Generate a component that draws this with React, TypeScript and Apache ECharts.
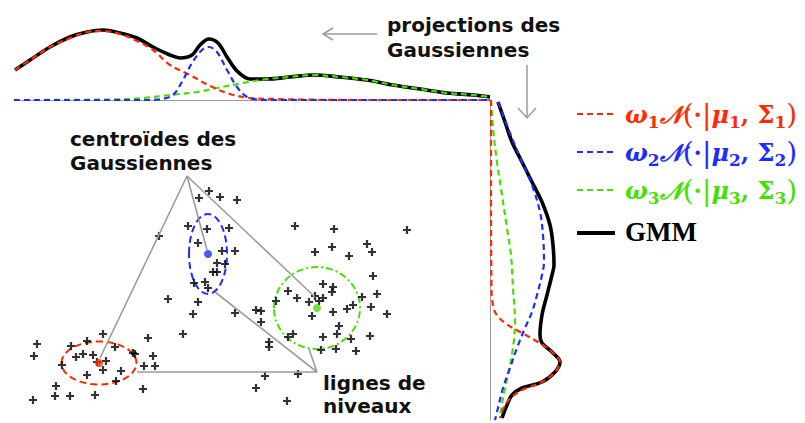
import React, { useEffect, useRef } from "react";
import * as echarts from "echarts";

// 2-D samples (x, y) in plot units
const samples: [number, number][] = [
  [209,191],[199,198],[220,197],[237,200],[159,236],[188,226],[207,229],[229,228],[198,243],[222,251],[235,251],[217,263],[225,264],[213,272],[217,272],[194,283],[205,282],[208,288],[168,299],[198,302],[193,314],[235,313],[256,310],[261,311],[261,322],[269,342],[269,347],[183,334],[148,338],[103,334],[87,341],[71,346],[37,344],[34,356],[76,357],[83,354],[93,355],[115,347],[62,365],[97,362],[106,361],[103,370],[87,375],[121,371],[133,353],[135,354],[153,356],[144,366],[155,366],[116,381],[56,386],[55,396],[70,396],[95,395],[33,400],[143,389],[265,376],[256,388],
  [295,226],[334,229],[407,230],[315,252],[332,247],[349,256],[367,244],[372,252],[373,276],[323,284],[333,287],[332,292],[288,291],[297,298],[315,296],[323,298],[319,301],[309,302],[377,294],[362,297],[353,305],[347,309],[371,307],[276,301],[333,312],[312,316],[387,314],[339,326],[337,334],[370,336],[288,337],[293,334],[323,337],[351,339],[321,350],[336,349],[356,351],[298,374],[287,401],
];

// Gaussian components: centroids and level-line radii
const centroidX = [99, 208, 317];
const centroidY = [363, 254, 308];
const levelRx = [37.5, 19, 43];
const levelRy = [21.5, 40, 41];

// pointer lines of the annotations (plot units)
const pointerLines: [number, number][][] = [
  [[187, 176], [100, 358]],
  [[187, 176], [207, 250]],
  [[187, 176], [315, 297]],
  [[317, 372], [309, 349]],
  [[317, 372], [215, 292]],
  [[317, 372], [137, 372]],
];

// projection on the horizontal axis (x, density)
const topBlackX = [15,30,50,70,87,103,120,137,153,170,180,192,200,209,218,227,237,250,267,290,313,340,367,393,420,447,473,490];
const topBlackV = [30,40,53,63,68,70,67,62,53,45,42,45,55,61,57,43,29,21,21,23,25,23,20,15,11,7,5,3];
const topRedX = [15,30,50,70,87,103,120,137,153,170,190,210,230,250,275,300,350,490];
const topRedV = [30,40,53,62,68,69,66,59,50,35,25,14,6,2,1,0.5,0,0];
const topBlueX = [14,150,162,173,183,192,202,209,217,227,237,247,257,270,490];
const topBlueV = [0,0,1,5,20,37,50,53,48,30,13,3,0.5,0,0];
const topGreenX = [14,110,143,170,197,217,243,260,267,290,313,340,367,393,420,447,473,490];
const topGreenV = [0,0.5,2,5,8,12,17,20,21,23,25,23,20,15,11,7,5,3];

// projection on the vertical axis (y, density)
const rightBlackY = [102,122,142,162,182,202,225,245,265,275,295,315,335,343,352,362,372,382,388,395,405,418];
const rightBlackU = [8,15,22,32,42,52,60,63,64,62,57,52,50,52,62,70,65,52,32,22,17,12];
const rightBlueY = [102,128,162,185,212,235,262,275,295,312,328,348,368,388,408,420];
const rightBlueU = [8,18,32,42,50,53,54,52,47,42,35,27,20,13,8,5];
const rightRedY = [100,200,290,298,312,323,333,342,352,362,372,382,390,397,405,418];
const rightRedU = [1,1,1.5,2,5,15,32,48,62,70,65,52,32,22,15,10];
const rightGreenY = [100,128,162,195,228,255,288,322,348,375,398,418];
const rightGreenU = [1,3,7,12,17,21,23,25,23,18,13,10];

const legendIndex = ["1", "2", "3"];

export default function App() {
  const ref = useRef<HTMLDivElement>(null);
  useEffect(() => {
    document.body.style.margin = "0";
    const chart = echarts.init(ref.current!, null, { renderer: "svg" });
    const gray = "#9b9b9b";
    const colors = ["#ff2a00", "#1e2cff", "#46e000"];
    const dashes = [[7, 4], [7, 4], [7, 3, 2, 3]];
    const top = (xs: number[], vs: number[]) => xs.map((x, i) => [x, vs[i]]);
    const right = (ys: number[], us: number[]) => ys.map((y, i) => [us[i], y]);

    const curve = (data: number[][], g: number, color: string, dashed: boolean) => ({
      type: "line",
      xAxisIndex: g,
      yAxisIndex: g,
      data,
      smooth: 0.35,
      symbol: "none",
      clip: false,
      silent: true,
      lineStyle: dashed
        ? { color, width: 2.2, type: [6, 4] }
        : { color: "#000", width: 3.6 },
    });

    const rich = (c: string) => {
      const base = { fontFamily: "DejaVu Serif", fontWeight: "bold", fill: c, color: c, lineHeight: 32 };
      return {
        w: { ...base, fontStyle: "italic", fontSize: 24 },
        n: { ...base, fontStyle: "italic", fontSize: 24 },
        s: { ...base, fontSize: 17, lineHeight: 18, verticalAlign: "bottom" },
        p: { ...base, fontWeight: "normal", fontSize: 28 },
        d: { ...base, fontSize: 24 },
        g: { ...base, fontSize: 24 },
      };
    };
    const mathText = (k: string) =>
      `{w|ω}{s|${k}}{n|𝒩}{p|(}{d|·}{p||}{w|μ}{s|${k}}{d|, }{g|Σ}{s|${k}}{p|)}`;

    const legendYs = [114, 152, 190];
    const legendGraphics: any[] = [];
    legendIndex.forEach((k, i) => {
      legendGraphics.push({
        type: "line",
        shape: { x1: 577, y1: legendYs[i], x2: 613, y2: legendYs[i] },
        style: { stroke: colors[i], lineWidth: 2.2, lineDash: [6, 4] },
      });
      legendGraphics.push({
        type: "text",
        x: 625,
        y: legendYs[i],
        style: { text: mathText(k), rich: rich(colors[i]), verticalAlign: "middle", align: "left" },
      });
    });
    legendGraphics.push({
      type: "line",
      shape: { x1: 577, y1: 233, x2: 615, y2: 233 },
      style: { stroke: "#000", lineWidth: 4 },
    });
    legendGraphics.push({
      type: "text",
      x: 625,
      y: 232,
      style: { text: "GMM", fontFamily: "Liberation Serif", fontWeight: "bold", fontSize: 27, fill: "#000", verticalAlign: "middle" },
    });

    const annot = (x: number, y: number, text: string, lh: number) => ({
      type: "text",
      x,
      y,
      style: { text, fontFamily: "DejaVu Sans", fontWeight: "bold", fontSize: 20, fill: "#111", lineHeight: lh, verticalAlign: "top" },
    });

    const option: any = {
      animation: false,
      grid: [
        { left: 14, top: 100, width: 476, height: 320, outerBoundsMode: "none" },
        { left: 14, top: 0, width: 476, height: 100, outerBoundsMode: "none" },
        { left: 490, top: 100, width: 100, height: 320, outerBoundsMode: "none" },
      ],
      xAxis: [
        { type: "value", gridIndex: 0, min: 14, max: 490, show: false },
        {
          type: "value", gridIndex: 1, min: 14, max: 490,
          axisLine: { show: true, onZero: false, lineStyle: { color: gray, width: 1 } },
          axisTick: { show: false }, axisLabel: { show: false }, splitLine: { show: false },
        },
        { type: "value", gridIndex: 2, min: 0, max: 100, show: false },
      ],
      yAxis: [
        { type: "value", gridIndex: 0, min: 100, max: 420, inverse: true, show: false },
        { type: "value", gridIndex: 1, min: 0, max: 100, show: false },
        {
          type: "value", gridIndex: 2, min: 100, max: 420, inverse: true,
          axisLine: { show: true, onZero: false, lineStyle: { color: gray, width: 1 } },
          axisTick: { show: false }, axisLabel: { show: false }, splitLine: { show: false },
        },
      ],
      series: [
        ...pointerLines.map((seg) => ({
          type: "line", xAxisIndex: 0, yAxisIndex: 0, data: seg, symbol: "none", silent: true,
          lineStyle: { color: gray, width: 1.6 },
        })),
        {
          type: "custom",
          xAxisIndex: 0,
          yAxisIndex: 0,
          data: centroidX.map((x, i) => [x, centroidY[i], levelRx[i], levelRy[i]]),
          encode: { x: 0, y: 1 },
          renderItem: (params: any, api: any) => {
            const c = api.coord([api.value(0), api.value(1)]);
            const s = api.size([api.value(2), api.value(3)]);
            const i = params.dataIndex;
            return {
              type: "ellipse",
              shape: { cx: c[0], cy: c[1], rx: s[0], ry: s[1] },
              style: { fill: "none", stroke: colors[i], lineWidth: 2, lineDash: dashes[i] },
            };
          },
        },
        {
          type: "scatter", xAxisIndex: 0, yAxisIndex: 0, data: samples,
          symbol: "path://M3.6,0H6.4V3.6H10V6.4H6.4V10H3.6V6.4H0V3.6H3.6Z", symbolSize: 8,
          itemStyle: { color: "#000" }, silent: true,
        },
        {
          type: "scatter", xAxisIndex: 0, yAxisIndex: 0,
          data: centroidX.map((x, i) => ({ value: [x, centroidY[i]], itemStyle: { color: colors[i] } })),
          symbol: "circle", symbolSize: 8, silent: true,
        },
        curve(top(topBlackX, topBlackV), 1, "#000", false),
        curve(top(topGreenX, topGreenV), 1, colors[2], true),
        curve(top(topRedX, topRedV), 1, colors[0], true),
        curve(top(topBlueX, topBlueV), 1, colors[1], true),
        curve(right(rightBlackY, rightBlackU), 2, "#000", false),
        curve(right(rightGreenY, rightGreenU), 2, colors[2], true),
        curve(right(rightRedY, rightRedU), 2, colors[0], true),
        curve(right(rightBlueY, rightBlueU), 2, colors[1], true),
      ],
      graphic: [
        { type: "line", shape: { x1: 377, y1: 34, x2: 323, y2: 34 }, style: { stroke: gray, lineWidth: 1.5 } },
        { type: "polyline", shape: { points: [[333, 28], [323, 34], [333, 40]] }, style: { stroke: gray, lineWidth: 1.5, fill: "none" } },
        { type: "line", shape: { x1: 527, y1: 65, x2: 527, y2: 118 }, style: { stroke: gray, lineWidth: 1.5 } },
        { type: "polyline", shape: { points: [[518, 108], [527, 118], [536, 108]] }, style: { stroke: gray, lineWidth: 1.5, fill: "none" } },
        annot(387, 12, "projections des\nGaussiennes", 25),
        annot(70, 127, "centroïdes des\nGaussiennes", 24),
        annot(323, 371, "lignes de\nniveaux", 23),
        ...legendGraphics,
      ],
    };
    chart.setOption(option);
    return () => chart.dispose();
  }, []);
  return <div ref={ref} style={{ position: "absolute", left: 0, top: 0, width: 805, height: 423 }} />;
}
